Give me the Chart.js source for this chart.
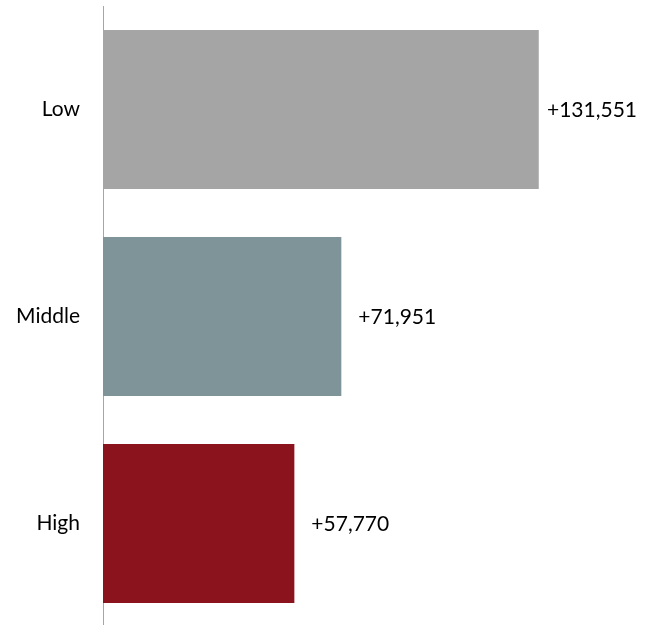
<!DOCTYPE html>
<html>
<head>
<meta charset="utf-8">
<script src="https://cdn.jsdelivr.net/npm/chart.js@4/dist/chart.umd.min.js"></script>
<style>
html,body{margin:0;padding:0;overflow:hidden;background:#fff;width:652px;height:625px;}
canvas{display:block;}
</style>
</head>
<body>
<canvas id="c" width="652" height="628"></canvas>
<script>
const categories = ["Low", "Middle", "High"];
const values = [131551, 71951, 57770];
const valueLabels = ["+131,551", "+71,951", "+57,770"];
const barColors = ["#A5A5A5", "#7F9499", "#8B131D"];

const FONT = "Lato, 'Open Sans', sans-serif";
const FSIZE = 21;

const labelPlugin = {
  id: 'valueLabels',
  afterDatasetsDraw(chart) {
    const ctx = chart.ctx;
    const meta = chart.getDatasetMeta(0);
    ctx.save();
    ctx.font = FSIZE + "px " + FONT;
    ctx.fillStyle = "#000";
    ctx.textBaseline = "middle";
    ctx.textAlign = "left";
    meta.data.forEach((bar, i) => {
      const t = valueLabels[i];
      const w = ctx.measureText(t).width;
      let x = bar.x + 17;
      const maxX = chart.width - 15 - w;
      if (x > maxX) x = maxX;
      ctx.fillText(t, x, bar.y + 1);
    });
    ctx.restore();
  }
};

new Chart(document.getElementById('c'), {
  type: 'bar',
  data: {
    labels: categories,
    datasets: [{
      data: values,
      backgroundColor: barColors,
      borderWidth: 0,
      barPercentage: 0.768,
      categoryPercentage: 1.0
    }]
  },
  options: {
    indexAxis: 'y',
    responsive: false,
    animation: false,
    devicePixelRatio: 1,
    layout: { padding: { top: 6, bottom: 1, left: 0, right: 19 } },
    plugins: { legend: { display: false }, tooltip: { enabled: false } },
    scales: {
      x: {
        display: false,
        min: 0,
        max: 160000
      },
      y: {
        afterFit(scale) { scale.width = 103; scale.paddingTop = 0; scale.paddingBottom = 0; },
        grid: { display: false, drawTicks: false },
        border: { display: true, color: "#A6A6A6", width: 1 },
        ticks: {
          color: "#000",
          padding: 23,
          font: { family: FONT, size: FSIZE }
        }
      }
    }
  },
  plugins: [labelPlugin]
});
</script>
</body>
</html>
